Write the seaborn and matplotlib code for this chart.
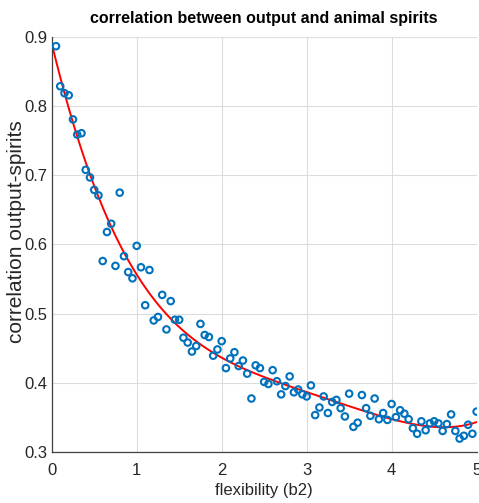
import numpy as np
import pandas as pd
import matplotlib
matplotlib.use("Agg")
import matplotlib.pyplot as plt
import seaborn as sns

# flexibility values (b2)
flexibility = [0.05, 0.10, 0.15, 0.20, 0.25, 0.30, 0.35, 0.40, 0.45, 0.50,
               0.55, 0.60, 0.65, 0.70, 0.75, 0.80, 0.85, 0.90, 0.95, 1.00,
               1.05, 1.10, 1.15, 1.20, 1.25, 1.30, 1.35, 1.40, 1.45, 1.50,
               1.55, 1.60, 1.65, 1.70, 1.75, 1.80, 1.85, 1.90, 1.95, 2.00,
               2.05, 2.10, 2.15, 2.20, 2.25, 2.30, 2.35, 2.40, 2.45, 2.50,
               2.55, 2.60, 2.65, 2.70, 2.75, 2.80, 2.85, 2.90, 2.95, 3.00,
               3.05, 3.10, 3.15, 3.20, 3.25, 3.30, 3.35, 3.40, 3.45, 3.50,
               3.55, 3.60, 3.65, 3.70, 3.75, 3.80, 3.85, 3.90, 3.95, 4.00,
               4.05, 4.10, 4.15, 4.20, 4.25, 4.30, 4.35, 4.40, 4.45, 4.50,
               4.55, 4.60, 4.65, 4.70, 4.75, 4.80, 4.85, 4.90, 4.95, 5.00]

# correlation output-spirits
correlation = [0.887, 0.829, 0.819, 0.816, 0.781, 0.759, 0.761, 0.708, 0.697, 0.679,
               0.671, 0.576, 0.618, 0.630, 0.569, 0.675, 0.583, 0.560, 0.551, 0.598,
               0.567, 0.512, 0.563, 0.490, 0.495, 0.527, 0.477, 0.518, 0.491, 0.491,
               0.465, 0.458, 0.445, 0.453, 0.485, 0.469, 0.466, 0.439, 0.448, 0.460,
               0.421, 0.435, 0.444, 0.424, 0.432, 0.413, 0.377, 0.425, 0.421, 0.401,
               0.398, 0.418, 0.402, 0.383, 0.395, 0.409, 0.386, 0.390, 0.383, 0.380,
               0.396, 0.353, 0.364, 0.380, 0.356, 0.372, 0.375, 0.363, 0.351, 0.384,
               0.336, 0.342, 0.382, 0.363, 0.352, 0.377, 0.347, 0.356, 0.346, 0.369,
               0.350, 0.360, 0.355, 0.347, 0.334, 0.326, 0.344, 0.331, 0.341, 0.344,
               0.341, 0.330, 0.340, 0.354, 0.330, 0.319, 0.323, 0.339, 0.326, 0.358]

x_ticks = [0, 1, 2, 3, 4, 5]
y_ticks = [0.3, 0.4, 0.5, 0.6, 0.7, 0.8, 0.9]

df = pd.DataFrame({"flexibility": flexibility, "correlation": correlation})

# polynomial fit curve through the data
coef = np.polyfit(df["flexibility"], df["correlation"], 4)
xs = np.linspace(0, 5, 300)
fit = pd.DataFrame({"flexibility": xs, "correlation": np.polyval(coef, xs)})

sns.set_theme(style="white")
plt.rcParams["font.family"] = ["Liberation Sans", "DejaVu Sans"]

fig = plt.figure(figsize=(4.79, 5.03), dpi=100)
ax = fig.add_axes([0.108, 0.102, 0.887, 0.824])

sns.lineplot(data=fit, x="flexibility", y="correlation", color="#ff0000",
             linewidth=1.4, ax=ax, zorder=2)
sns.scatterplot(data=df, x="flexibility", y="correlation", ax=ax,
                marker="o", s=22, facecolor="none", edgecolor="#0072BD",
                linewidth=1.5, zorder=3)

ax.set_xlim(0, 5)
ax.set_ylim(0.3, 0.9)
ax.set_xticks(x_ticks)
ax.set_yticks(y_ticks)
ax.set_xticklabels([str(t) for t in x_ticks])
ax.set_yticklabels([f"{t:.1f}" for t in y_ticks])
ax.grid(True, color="#dcdcdc", linewidth=0.8)
ax.set_axisbelow(True)
for s in ["top", "right"]:
    ax.spines[s].set_visible(False)
for s in ["left", "bottom"]:
    ax.spines[s].set_color("#404040")
    ax.spines[s].set_linewidth(0.9)
ax.tick_params(direction="in", length=4, width=0.9, color="#404040",
               labelsize=12, labelcolor="#262626")
ax.tick_params(axis="x", pad=8)
ax.tick_params(axis="y", pad=3)
ax.set_xlabel("flexibility (b2)", fontsize=12, color="#262626")
ax.xaxis.set_label_coords(0.5, -0.075)
ax.set_ylabel("correlation output-spirits", fontsize=15, color="#262626")
ax.yaxis.set_label_coords(-0.06, 0.53)
ax.set_title("correlation between output and animal spirits", fontsize=11.5,
             fontweight="bold", color="#000000", pad=10)

fig.savefig("out.png", dpi=100)
